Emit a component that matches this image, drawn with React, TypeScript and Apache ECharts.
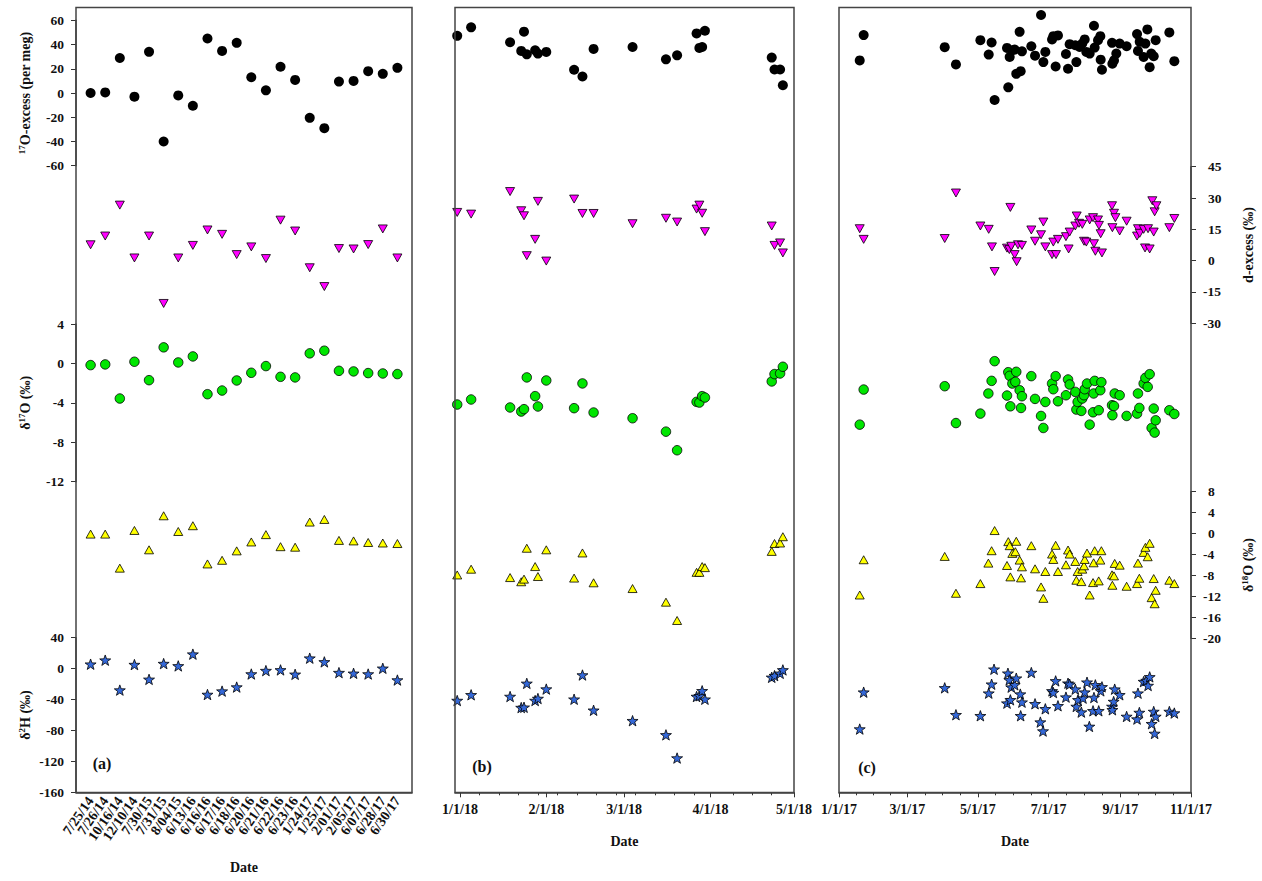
import React, { useEffect, useRef } from 'react';
import * as echarts from 'echarts';

const FONT = '"Liberation Serif", "Times New Roman", serif';

// ---------- Panel (a): sampling dates (category labels) ----------
const catsA = ['7/25/14', '7/26/14', '10/16/14', '12/10/14', '7/30/15', '7/31/15', '8/04/15', '6/13/16', '6/16/16', '6/17/16', '6/18/16', '6/20/16', '6/21/16', '6/22/16', '6/23/16', '1/24/17', '1/25/17', '2/01/17', '2/05/17', '6/07/17', '6/28/17', '6/30/17'];
const exA = [0, 0.5, 28.9, -3, 34, -40, -2, -10.5, 45, 34.7, 41.4, 13, 2.2, 21.7, 10.8, -20.5, -29, 9.4, 10, 18, 15.8, 20.8];
const dA = [7.6, 11.8, 26.6, 1.3, 11.8, -20.5, 1.3, 7.3, 14.7, 12.6, 2.9, 6.6, 1, 19.4, 14.2, -3.4, -12.4, 5.8, 5.6, 7.7, 15.2, 1.3];
const o17A = [-0.17, -0.1, -3.56, 0.17, -1.7, 1.63, 0.1, 0.71, -3.12, -2.75, -1.73, -0.95, -0.27, -1.36, -1.42, 1.02, 1.29, -0.75, -0.81, -0.98, -1.02, -1.08];
const o18A = [-0.1, -0.1, -6.6, 0.6, -3.1, 3.4, 0.4, 1.5, -5.8, -5.1, -3.3, -1.6, -0.2, -2.5, -2.6, 2.2, 2.7, -1.3, -1.4, -1.7, -1.8, -1.9];
const h2A = [5.7, 10.9, -27.8, 5.2, -13.9, 6.5, 3.5, 18.7, -33.5, -29.1, -23.9, -7, -2.6, -1.7, -7.4, 13.5, 8.7, -5.2, -6.1, -7, 0.4, -14.8];

// ---------- Panel (b): 2018 ----------
const datesB = ['2017-12-31', '2018-01-05', '2018-01-19', '2018-01-23', '2018-01-24', '2018-01-25', '2018-01-28', '2018-01-29', '2018-02-01', '2018-02-11', '2018-02-14', '2018-02-18', '2018-03-04', '2018-03-16', '2018-03-20', '2018-03-27', '2018-03-28', '2018-03-29', '2018-03-30', '2018-04-23', '2018-04-24', '2018-04-26', '2018-04-27'];
const exB = [47.2, 54.2, 41.9, 34.7, 50.6, 31.9, 35.3, 32.5, 33.9, 19.2, 13.6, 36.4, 38, 27.8, 31.1, 49.2, 37.2, 38, 51.4, 29.2, 19.4, 19.4, 6.4];
const dB = [23.1, 22.3, 33.1, 23.9, 21.5, 2.4, 10.2, 28.4, -0.2, 29.5, 22.6, 22.6, 17.7, 20.3, 18.5, 24.7, 26.6, 22.7, 13.9, 16.6, 7.3, 8.5, 3.7];
const o17B = [-4.17, -3.66, -4.47, -4.88, -4.64, -1.42, -3.32, -4.37, -1.73, -4.54, -2.03, -4.98, -5.56, -6.92, -8.81, -3.9, -3.97, -3.32, -3.46, -1.83, -1.08, -1.02, -0.34];
const o18B = [-7.9, -6.8, -8.4, -9.2, -8.7, -2.8, -6.3, -8.2, -3.1, -8.5, -3.7, -9.4, -10.5, -13.1, -16.6, -7.4, -7.4, -6.3, -6.5, -3.4, -1.9, -1.8, -0.6];
const h2B = [-41.3, -33.9, -36.1, -50.4, -50, -19.1, -41.3, -38.7, -26.5, -39.6, -8.3, -53.9, -67.4, -85.7, -115.7, -36.1, -35.2, -28.7, -39.6, -11.3, -9.1, -6.1, -1.7];

// ---------- Panel (c): 2017, x = days since 1/1/17 ----------
const daysCex = [17.9, 21.3, 91.3, 101, 122.1, 129.3, 131.8, 134.4, 145.1, 146.2, 147.4, 149.7, 151.7, 153.1, 156.0, 156.9, 158.0, 166.1, 169.3, 174.5, 176.5, 178.2, 184.0, 185.1, 187.1, 189.1, 196.0, 197.8, 199.2, 204.1, 205.0, 207.8, 210.1, 212.2, 213.6, 216.5, 220.2, 220.8, 223.7, 225.7, 226.0, 227.1, 235.8, 236.1, 237.5, 239.5, 242.4, 248.4, 257.4, 258.2, 259.7, 263.1, 264.6, 266.3, 268.3, 269.7, 271.8, 273.5, 285.3, 289.6];
const exC = [26.9, 47.8, 37.8, 23.6, 43.6, 31.7, 41.7, -5.8, 37.2, 4.7, 29.7, 35.3, 35.8, 15.8, 50.5, 18, 34.4, 38.6, 30.8, 64.4, 25.5, 33.9, 44.2, 46.9, 21.9, 47.5, 32.2, 20, 40.3, 39.4, 25.5, 38, 40.8, 44.2, 33.9, 32.5, 55.5, 37.5, 43.6, 46.9, 27.5, 19.2, 41.4, 24.2, 26.9, 32.5, 40.8, 38.6, 48.6, 34.7, 42.2, 29.7, 40.8, 52.5, 21.3, 32.5, 30.3, 43.6, 50, 26.3];
const daysCd = [17.9, 21.3, 91.3, 101, 122.1, 129.3, 132.1, 134.4, 145.1, 147.1, 148.0, 148.8, 151.7, 153.4, 154.6, 158.0, 166.1, 169.3, 174.5, 176.5, 178.2, 184.0, 185.1, 187.4, 189.1, 196.0, 198.3, 199.2, 204.1, 205.3, 207.3, 210.1, 211.6, 213.6, 216.5, 219.4, 220.2, 221.4, 223.7, 224.5, 226.0, 227.1, 235.8, 236.1, 237.5, 238.7, 242.4, 248.4, 257.4, 258.2, 259.7, 263.1, 264.3, 266.9, 268.3, 270.6, 271.8, 272.6, 274.1, 285.3, 289.6];
const dC = [15.3, 10.2, 10.6, 32.4, 16.6, 15, 6.6, -5.2, 6, 5.3, 25.5, 6.9, 2.9, -0.5, 7.6, 7.3, 14.7, 9.3, 12.4, 18.5, 6.6, 2.9, 8.9, 2.9, 10.2, 11.5, 5.6, 13.7, 16.6, 21.4, 17.9, 17.4, 9.3, 8.9, 19.5, 20.6, 8.1, 4.5, 19.5, 16.9, 12.9, 3.7, 26.3, 15.8, 22.7, 20.6, 14.2, 18.9, 11.8, 15.3, 13.1, 15, 6.1, 15.3, 5.6, 28.7, 13.7, 23.4, 26.3, 15.8, 20.2];
const daysCo = [17.9, 21.3, 91.3, 101, 122.1, 129.0, 131.8, 134.4, 145.1, 146.2, 147.4, 148.0, 149.7, 152.3, 153.1, 156.0, 157.2, 158.0, 166.1, 169.3, 174.5, 176.5, 178.2, 184.0, 185.1, 187.1, 189.1, 196.0, 197.8, 199.2, 204.1, 205.0, 206.1, 209.3, 210.1, 211.6, 212.2, 214.2, 216.5, 219.4, 219.9, 220.8, 224.3, 225.7, 226.6, 235.8, 236.1, 237.5, 238.1, 242.4, 248.4, 257.4, 258.2, 259.4, 263.1, 264.6, 266.6, 268.3, 270.0, 271.8, 273.5, 272.6, 285.3, 289.6];
const o17C = [-6.21, -2.65, -2.31, -6.05, -5.09, -3.05, -1.77, 0.23, -3.26, -0.89, -1.26, -4.35, -2.04, -1.87, -0.85, -2.72, -4.52, -3.33, -1.29, -3.6, -5.33, -6.55, -3.91, -2.04, -2.62, -1.29, -3.84, -3.23, -1.63, -2.14, -2.89, -4.68, -3.91, -4.82, -3.56, -3.23, -2.62, -2.04, -6.21, -4.96, -3.05, -1.77, -4.75, -2.72, -1.9, -4.24, -5.26, -4.32, -3.05, -3.23, -5.33, -5.09, -3.05, -4.52, -2.04, -1.47, -2.38, -1.09, -6.55, -4.58, -5.77, -7.02, -4.75, -5.13];
const o18C = [-11.73, -5.0, -4.36, -11.4, -9.55, -5.64, -3.27, 0.58, -6.09, -1.54, -2.31, -8.27, -3.78, -3.46, -1.47, -5.06, -8.46, -6.35, -2.31, -6.73, -10.19, -12.37, -7.24, -3.91, -4.94, -2.24, -7.24, -5.96, -3.14, -3.91, -5.32, -8.91, -7.24, -9.17, -6.79, -6.15, -4.94, -3.72, -11.73, -9.36, -5.58, -3.27, -9.04, -5.06, -3.27, -7.88, -9.87, -8.08, -5.7, -6.03, -10.06, -9.55, -5.64, -8.53, -3.59, -2.63, -4.42, -1.86, -12.24, -8.59, -10.83, -13.4, -8.91, -9.55];
const daysCh = [17.9, 21.3, 91.3, 101, 122.1, 129.3, 131.8, 133.9, 145.1, 145.9, 147.1, 148.0, 148.8, 151.7, 153.1, 156.6, 156.9, 158.0, 166.1, 169.3, 173.9, 176.2, 178.2, 184.0, 185.1, 187.1, 189.1, 196.0, 197.8, 199.2, 204.1, 205.0, 206.4, 209.3, 210.7, 212.2, 214.2, 216.2, 219.4, 220.2, 221.4, 224.3, 226.0, 227.1, 235.8, 236.1, 237.2, 238.1, 242.4, 248.4, 257.4, 258.2, 259.4, 263.1, 265.4, 266.9, 268.3, 270.0, 271.8, 273.5, 272.6, 285.3, 289.6];
const h2C = [-78.2, -30.5, -24.9, -59.7, -61, -31.8, -20.2, -0.8, -44.7, -6, -14.6, -40.4, -24, -21, -12.4, -33, -61, -43.4, -5.1, -45.5, -69.2, -80.8, -52, -28.8, -31, -15.9, -48.1, -36.9, -18.9, -20.2, -26.6, -49, -40.4, -56.3, -38.2, -30.5, -17.6, -74.8, -54.6, -37.4, -21, -54.6, -28.8, -23.6, -49, -53.3, -42.6, -26.6, -33.9, -61.9, -65.3, -31.8, -56.8, -16.8, -15.5, -21.9, -10.7, -71.3, -55.5, -61.9, -83.9, -55.5, -57.5];

// ---------- layout ----------
const DAY = 86400000;
const T0 = new Date(2017, 0, 1).getTime();
const parseDay = (s: string) => {
  const [y, m, d] = s.split('-').map(Number);
  return new Date(y, m - 1, d).getTime();
};
const PANELS = [
  { key: 'a', left: 76, width: 336 },
  { key: 'b', left: 455, width: 339 },
  { key: 'c', left: 839, width: 352 },
];
const BANDS = [
  { key: 'ex', top: 20.3, height: 145.4, min: -60, max: 60, interval: 20 },
  { key: 'd', top: 166.7, height: 156.6, min: -30, max: 45, interval: 15 },
  { key: 'o17', top: 324, height: 157.7, min: -12, max: 4, interval: 4 },
  { key: 'o18', top: 491.7, height: 146.6, min: -20, max: 8, interval: 4 },
  { key: 'h2', top: 637.7, height: 154.6, min: -160, max: 40, interval: 40 },
];
const FRAME_TOP = 7.5;
const FRAME_BOTTOM = 792.5;

const STAR = 'path://M0,-10L2.35,-3.24L9.51,-3.09L3.8,1.24L5.88,8.09L0,4L-5.88,8.09L-3.8,1.24L-9.51,-3.09L-2.35,-3.24Z';
const MARKERS: Record<string, any> = {
  ex: { symbol: 'circle', symbolSize: 10, itemStyle: { color: '#000000', opacity: 1 } },
  d: { symbol: 'triangle', symbolRotate: 180, symbolSize: [9, 8], itemStyle: { color: '#ff00ff', borderColor: '#000', borderWidth: 0.8, opacity: 1 } },
  o17: { symbol: 'circle', symbolSize: 9.5, itemStyle: { color: '#00e600', borderColor: '#000', borderWidth: 0.8, opacity: 1 } },
  o18: { symbol: 'triangle', symbolSize: [9, 8], itemStyle: { color: '#ffff00', borderColor: '#000', borderWidth: 0.8, opacity: 1 } },
  h2: { symbol: STAR, symbolSize: 11, symbolKeepAspect: true, itemStyle: { color: '#3468d8', borderColor: '#000', borderWidth: 0.8, opacity: 1 } },
};

const NAMES_LEFT: Record<string, string> = {
  ex: '{s|17}O-excess (per meg)',
  o17: 'δ{s|17}O (‰)',
  h2: 'δ{s|2}H (‰)',
};
const NAMES_RIGHT: Record<string, string> = {
  d: 'd-excess (‰)',
  o18: 'δ{s|18}O (‰)',
};

const nameStyle = {
  fontFamily: FONT,
  fontWeight: 'bold',
  fontSize: 14,
  color: '#111',
  lineHeight: 16,
  rich: { s: { fontFamily: FONT, fontWeight: 'bold', fontSize: 9, lineHeight: 9, verticalAlign: 'top', color: '#111' } },
};

const fmtDate = (v: number) => {
  const d = new Date(Math.round(v));
  return `${d.getMonth() + 1}/${d.getDate()}/${String(d.getFullYear()).slice(2)}`;
};

function buildOption() {
  const minB = new Date(2017, 11, 30, 5).getTime();
  const maxB = new Date(2018, 4, 1).getTime();
  const majorsB = [0, 1, 2, 3, 4].map((m) => new Date(2018, m, 1).getTime());
  const minorsB: number[] = [];
  for (let k = 1; k <= 17; k++) {
    const t = new Date(2018, 0, 1 + 7 * k).getTime();
    if (majorsB.every((m) => Math.abs(m - t) > 2.5 * DAY) && t < maxB) minorsB.push(t);
  }
  const minC = new Date(2017, 0, 1).getTime();
  const maxC = new Date(2017, 10, 1).getTime();
  const majorsC = [0, 2, 4, 6, 8, 10].map((m) => new Date(2017, m, 1).getTime());
  const minorsC: number[] = [];
  for (let i = 0; i < majorsC.length - 1; i++) {
    for (let k = 1; k < 4; k++) minorsC.push(majorsC[i] + ((majorsC[i + 1] - majorsC[i]) * k) / 4);
  }

  const dataA: Record<string, number[]> = { ex: exA, d: dA, o17: o17A, o18: o18A, h2: h2A };
  const dataB: Record<string, number[]> = { ex: exB, d: dB, o17: o17B, o18: o18B, h2: h2B };
  const dataC: Record<string, [number[], number[]]> = {
    ex: [daysCex, exC], d: [daysCd, dC], o17: [daysCo, o17C], o18: [daysCo, o18C], h2: [daysCh, h2C],
  };

  const grid: any[] = [];
  const xAxis: any[] = [];
  const yAxis: any[] = [];
  const series: any[] = [];

  const labelFont = { fontFamily: FONT, fontWeight: 'bold', color: '#111' };
  const lineCol = '#444';
  const axisLine = { show: true, onZero: false, lineStyle: { color: lineCol, width: 1.5 } };

  PANELS.forEach((p, pi) => {
    BANDS.forEach((b, bi) => {
      const g = pi * 5 + bi;
      grid.push({ left: p.left, width: p.width, top: b.top, height: b.height, containLabel: false });
      const bottom = b.key === 'h2';
      if (p.key === 'a') {
        xAxis.push({
          type: 'value', gridIndex: g, min: -1, max: 22, interval: 1, show: bottom, position: 'bottom',
          axisLine,
          axisTick: { show: false }, splitLine: { show: false },
          axisLabel: {
            ...labelFont, fontSize: 14, rotate: 55, margin: 6,
            formatter: (v: number) => (catsA[v] !== undefined ? catsA[v] : ''),
          },
          name: 'Date', nameLocation: 'middle', nameGap: 68,
          nameTextStyle: { ...labelFont, fontSize: 14 },
        });
      } else {
        const isB = p.key === 'b';
        const majors = isB ? majorsB : majorsC;
        xAxis.push({
          type: 'value', gridIndex: g, min: isB ? minB : minC, max: isB ? maxB : maxC, show: bottom, position: 'bottom',
          axisLine,
          axisTick: { show: true, length: 5, customValues: majors, lineStyle: { color: '#333' } },
          splitLine: { show: false },
          axisLabel: {
            ...labelFont, fontSize: 14, margin: 10, showMinLabel: true, showMaxLabel: true,
            customValues: majors,
            formatter: (v: number) => fmtDate(v),
          },
          name: 'Date', nameLocation: 'middle', nameGap: 42,
          nameTextStyle: { ...labelFont, fontSize: 14 },
        });
      }
      const leftName = p.key === 'a' ? NAMES_LEFT[b.key] : undefined;
      const rightName = p.key === 'c' ? NAMES_RIGHT[b.key] : undefined;
      if (leftName) {
        yAxis.push({
          type: 'value', gridIndex: g, min: b.min, max: b.max, interval: b.interval, position: 'left',
          axisLine,
          axisTick: { show: true, length: 5, lineStyle: { color: '#333' } },
          splitLine: { show: false },
          axisLabel: { ...labelFont, fontSize: 13.5, margin: 12 },
          name: leftName, nameLocation: 'middle', nameGap: 43, nameRotate: 90,
          nameTextStyle: nameStyle,
        });
      } else if (rightName) {
        yAxis.push({
          type: 'value', gridIndex: g, min: b.min, max: b.max, interval: b.interval, position: 'right',
          axisLine,
          axisTick: { show: true, length: 5, lineStyle: { color: '#333' } },
          splitLine: { show: false },
          axisLabel: {
            ...labelFont, fontSize: 13.5, margin: 12,
            formatter: (v: number) => (v < 0 ? `{n|${v}}` : `{p|${v}}`),
            rich: {
              n: { ...labelFont, fontSize: 13.5 },
              p: { ...labelFont, fontSize: 13.5, padding: [0, 0, 0, 5] },
            },
          },
          name: rightName, nameLocation: 'middle', nameGap: 49, nameRotate: 90,
          nameTextStyle: nameStyle,
        });
      } else {
        yAxis.push({ type: 'value', gridIndex: g, min: b.min, max: b.max, interval: b.interval, show: false, axisLine: { onZero: false } });
      }
      let data: any[] = [];
      if (p.key === 'a') data = dataA[b.key].map((v, i) => [i, v]);
      else if (p.key === 'b') data = dataB[b.key].map((v, i) => [parseDay(datesB[i]), v]);
      else {
        const [days, vals] = dataC[b.key];
        data = vals.map((v, i) => [T0 + days[i] * DAY, v]);
      }
      series.push({
        type: 'scatter', name: `${p.key}-${b.key}`, xAxisIndex: g, yAxisIndex: g, clip: false,
        data, ...MARKERS[b.key],
      });
    });
  });

  const addMinor = (g: number, min: number, max: number, vals: number[]) => {
    xAxis.push({
      type: 'value', gridIndex: g, min, max, position: 'bottom',
      axisLine: { show: false, onZero: false }, axisLabel: { show: false }, splitLine: { show: false },
      axisTick: { show: true, length: 3, customValues: vals, lineStyle: { color: '#333' } },
    });
  };
  addMinor(1 * 5 + 4, minB, maxB, minorsB);
  addMinor(2 * 5 + 4, minC, maxC, minorsC);

  const graphic: any[] = PANELS.map((p) => ({
    type: 'rect', silent: true, z: 100,
    shape: { x: p.left, y: FRAME_TOP, width: p.width, height: FRAME_BOTTOM - FRAME_TOP },
    style: { fill: 'none', stroke: lineCol, lineWidth: 1.5 },
  }));
  const tags = [
    { t: '(a)', x: 102, y: 763 },
    { t: '(b)', x: 482, y: 766 },
    { t: '(c)', x: 867, y: 767 },
  ];
  tags.forEach((tg) =>
    graphic.push({
      type: 'text', silent: true, z: 100, x: tg.x, y: tg.y,
      style: { text: tg.t, font: `bold 16px ${FONT}`, fill: '#111', align: 'center', verticalAlign: 'middle' },
    })
  );

  return {
    animation: false,
    backgroundColor: '#ffffff',
    textStyle: { fontFamily: FONT },
    grid, xAxis, yAxis, series, graphic,
  };
}

export default function App() {
  const ref = useRef<HTMLDivElement>(null);
  useEffect(() => {
    if (!ref.current) return;
    const chart = echarts.init(ref.current, undefined, { renderer: 'svg' });
    chart.setOption(buildOption() as any);
    return () => chart.dispose();
  }, []);
  return (
    <div
      ref={ref}
      style={{ position: 'absolute', left: 0, top: 0, width: 1262, height: 881, background: '#fff' }}
    />
  );
}
